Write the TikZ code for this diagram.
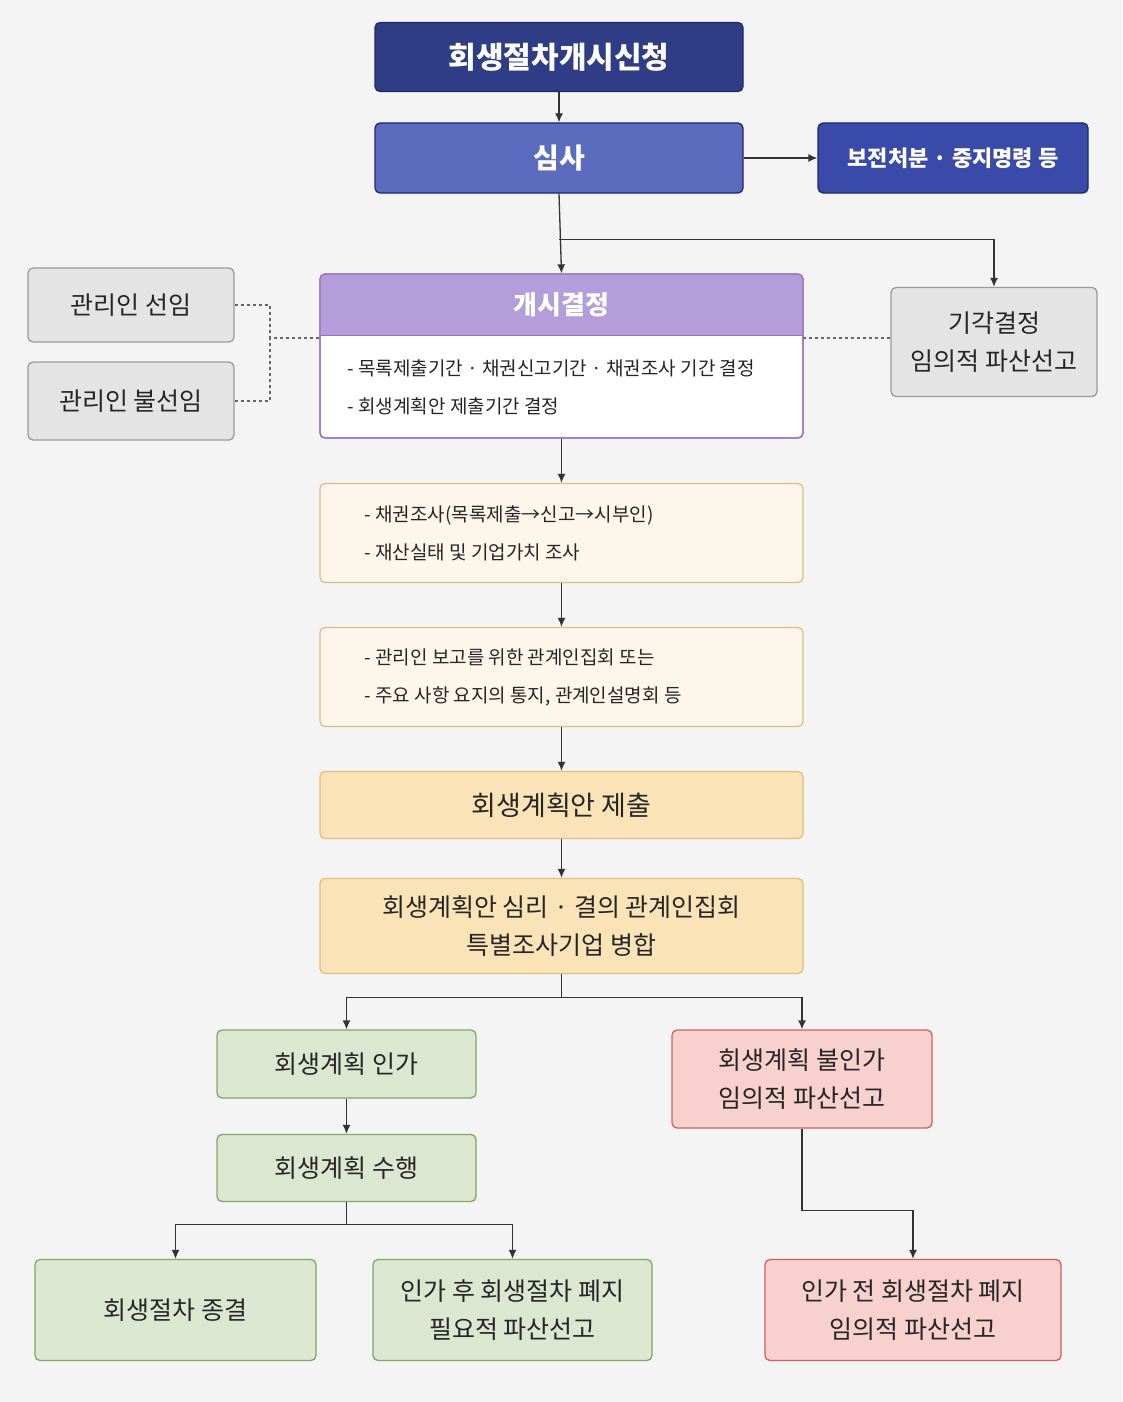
\documentclass[tikz,border=0pt]{standalone}
\usepackage{fontspec}
\setmainfont{Noto Sans CJK KR}
\usetikzlibrary{arrows.meta}
\definecolor{bgc}{HTML}{F4F4F4}
\definecolor{navy}{HTML}{2E3D86}
\definecolor{navyb}{HTML}{1E2A66}
\definecolor{midblue}{HTML}{5B6BBE}
\definecolor{blue2}{HTML}{3A4AA8}
\definecolor{purp}{HTML}{B39DDB}
\definecolor{purpb}{HTML}{9C6FC0}
\definecolor{grayf}{HTML}{E4E4E4}
\definecolor{grayb}{HTML}{9A9A9A}
\definecolor{creamf}{HTML}{FDF6EA}
\definecolor{orangeb}{HTML}{E3BC7E}
\definecolor{orangef}{HTML}{FBE3B8}
\definecolor{greenf}{HTML}{DCE7D1}
\definecolor{greenb}{HTML}{7FA860}
\definecolor{redf}{HTML}{F8D0CE}
\definecolor{redb}{HTML}{D06060}
\tikzset{
  box/.style={draw, rounded corners=5pt, line width=1.3pt, align=center, inner sep=0pt},
  navybox/.style={box, fill=navy, draw=navyb, text=white},
  bluebox/.style={box, fill=midblue, draw=navyb, text=white},
  graybox/.style={box, fill=grayf, draw=grayb, text=black!85},
  creambox/.style={box, fill=creamf, draw=orangeb, text=black!85, align=left},
  orangebox/.style={box, fill=orangef, draw=orangeb, text=black!85},
  greenbox/.style={box, fill=greenf, draw=greenb, text=black!85},
  redbox/.style={box, fill=redf, draw=redb, text=black!85},
  arr/.style={-{Latex[length=9pt,width=8pt]}, line width=1.3pt, draw=black!80},
  dotline/.style={dashed, line width=1.1pt, draw=black!60},
  big/.style={font=\fontsize{30}{36}\selectfont\bfseries},
  mid/.style={font=\fontsize{25}{38}\selectfont},
  sml/.style={font=\fontsize{19}{38}\selectfont},
}
\begin{document}
\begin{tikzpicture}[x=1pt,y=-1pt]
\fill[bgc] (0,0) rectangle (1122,1402);
\useasboundingbox (0,0) rectangle (1122,1402);
% top
\node[navybox, big, minimum width=368pt, minimum height=69pt] (apply) at (559,57) {회생절차개시신청};
\node[bluebox, font=\fontsize{28}{34}\selectfont\bfseries, minimum width=368pt, minimum height=70pt] (review) at (559,158) {심사};
\node[box, fill=blue2, draw=navyb, text=white, font=\fontsize{22}{28}\selectfont\bfseries, minimum width=270pt, minimum height=70pt] (preserve) at (953,158) {보전처분 · 중지명령 등};
% opening decision
\node[box, draw=purpb, fill=white, minimum width=483pt, minimum height=164pt] (open) at (561.5,356) {};
\begin{scope}
  \clip[rounded corners=5pt] (320,274) rectangle (803,438);
  \fill[purp] (320,274) rectangle (803,335);
\end{scope}
\draw[purpb, line width=1.3pt, rounded corners=5pt] (320,274) rectangle (803,438);
\draw[purpb, line width=1pt] (320,335) -- (803,335);
\node[text=white, font=\fontsize{26}{32}\selectfont\bfseries] (openhead) at (561.5,305) {개시결정};
\node[sml, anchor=west, align=left, text=black!85] (opentext) at (344,387) {- 목록제출기간 · 채권신고기간 · 채권조사 기간 결정\\- 회생계획안 제출기간 결정};
% side boxes
\node[graybox, mid, minimum width=206pt, minimum height=74pt] (sel) at (131,305) {관리인 선임};
\node[graybox, mid, minimum width=206pt, minimum height=78pt] (nosel) at (131,401) {관리인 불선임};
\node[graybox, mid, minimum width=206pt, minimum height=109pt] (reject) at (994,342) {기각결정\\임의적 파산선고};
% middle chain
\node[creambox, minimum width=483pt, minimum height=99pt] (survey) at (561.5,533) {};
\node[sml, anchor=west, align=left, text=black!85] at (361,533) {- 채권조사(목록제출→신고→시부인)\\- 재산실태 및 기업가치 조사};
\node[creambox, minimum width=483pt, minimum height=99pt] (meet) at (561.5,677) {};
\node[sml, anchor=west, align=left, text=black!85] at (361,677) {- 관리인 보고를 위한 관계인집회 또는\\- 주요 사항 요지의 통지, 관계인설명회 등};
\node[orangebox, font=\fontsize{27}{34}\selectfont, minimum width=483pt, minimum height=67pt] (submit) at (561.5,805) {회생계획안 제출};
\node[orangebox, mid, minimum width=483pt, minimum height=95pt] (hear) at (561.5,926) {회생계획안 심리 · 결의 관계인집회\\특별조사기업 병합};
% outcomes
\node[greenbox, mid, minimum width=259pt, minimum height=68pt] (approve) at (346.5,1064) {회생계획 인가};
\node[greenbox, mid, minimum width=259pt, minimum height=67pt] (perform) at (346.5,1168) {회생계획 수행};
\node[redbox, mid, minimum width=260pt, minimum height=98pt] (deny) at (802,1079) {회생계획 불인가\\임의적 파산선고};
\node[greenbox, mid, minimum width=281pt, minimum height=101pt] (close) at (175.5,1310) {회생절차 종결};
\node[greenbox, mid, minimum width=279pt, minimum height=101pt] (abolish) at (512.5,1310) {인가 후 회생절차 폐지\\필요적 파산선고};
\node[redbox, mid, minimum width=296pt, minimum height=101pt] (preabolish) at (913,1310) {인가 전 회생절차 폐지\\임의적 파산선고};
% connectors
\draw[arr] (apply) -- (review);
\draw[arr] (review) -- (preserve);
\draw[arr] (review.south) -- (open.north);
\draw[arr] (review.south) ++(0,46) -| (reject.north);
\draw[dotline] (sel.east) -| (270,338) -- (320,338);
\draw[dotline] (nosel.east) -| (270,338);
\draw[dotline] (803,338) -- (reject.west |- 0,338);
\draw[arr] (open.south) -- (survey.north);
\draw[arr] (survey.south) -- (meet.north);
\draw[arr] (meet.south) -- (submit.north);
\draw[arr] (submit.south) -- (hear.north);
\draw[arr] (hear.south) -- ++(0,23) -| (approve.north);
\draw[arr] (hear.south) -- ++(0,23) -| (deny.north);
\draw[arr] (approve.south) -- (perform.north);
\draw[arr] (perform.south) -- ++(0,22) -| (close.north);
\draw[arr] (perform.south) -- ++(0,22) -| (abolish.north);
\draw[arr] (deny.south) -- ++(0,82) -| (preabolish.north);
\end{tikzpicture}
\end{document}
